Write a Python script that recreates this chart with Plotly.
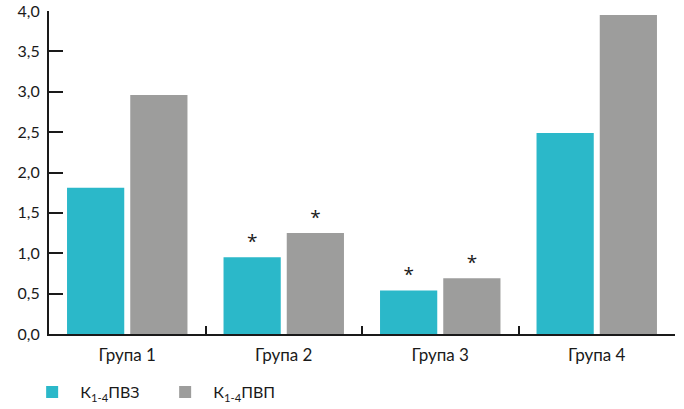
import plotly.graph_objects as go

categories = ["Група 1", "Група 2", "Група 3", "Група 4"]
series_names = ["\u00a0\u00a0К<sub>1-4</sub>ПВЗ", "\u00a0\u00a0К<sub>1-4</sub>ПВП"]
pvz_values = [1.81, 0.95, 0.54, 2.49]
pvp_values = [2.96, 1.25, 0.69, 3.95]
pvz_marks = ["", "*", "*", ""]
pvp_marks = ["", "*", "*", ""]
y_ticks = [0, 0.5, 1.0, 1.5, 2.0, 2.5, 3.0, 3.5, 4.0]
y_tick_labels = ["0,0", "0,5", "1,0", "1,5", "2,0", "2,5", "3,0", "3,5", "4,0"]

FONT = "Lato, 'Open Sans', sans-serif"
STAR_FONT = dict(size=19, color="#1a1a1a", family="'Open Sans', sans-serif")
fig = go.Figure()
fig.add_trace(go.Bar(x=categories, y=pvz_values, name=series_names[0],
                     marker=dict(color="#2BB8C9", line=dict(width=0)),
                     text=pvz_marks, textposition="outside", cliponaxis=False,
                     textfont=STAR_FONT, hoverinfo="skip"))
fig.add_trace(go.Bar(x=categories, y=pvp_values, name=series_names[1],
                     marker=dict(color="#9D9D9C", line=dict(width=0)),
                     text=pvp_marks, textposition="outside", cliponaxis=False,
                     textfont=STAR_FONT, hoverinfo="skip"))

fig.update_layout(
    width=684, height=409,
    margin=dict(l=49, r=9, t=11, b=75, pad=0, autoexpand=False),
    paper_bgcolor="white", plot_bgcolor="white",
    barmode="group", bargap=0.192, bargroupgap=0.095,
    font=dict(family=FONT, size=17, color="#1a1a1a"),
    showlegend=True,
    legend=dict(orientation="h", xref="container", yref="container",
                x=0.047, y=-0.023, xanchor="left", yanchor="bottom",
                font=dict(size=16, family=FONT, color="#1a1a1a"),
                entrywidth=88, traceorder="normal", itemclick=False),
    xaxis=dict(showline=True, linecolor="#1a1a1a", linewidth=2,
               ticks="inside", tickson="boundaries", ticklen=8, tickwidth=2,
               tickcolor="#1a1a1a", showgrid=False, zeroline=False,
               ticklabelstandoff=5, layer="below traces",
               tickfont=dict(size=17, family=FONT)),
    yaxis=dict(range=[0, 4], tickvals=y_ticks, ticktext=y_tick_labels,
               showline=True, linecolor="#1a1a1a", linewidth=2,
               ticks="inside", ticklen=14, tickwidth=2, tickcolor="#1a1a1a",
               showgrid=False, zeroline=False, ticklabelstandoff=4,
               tickfont=dict(size=16, family=FONT)),
)

fig.write_html("out.html", config={"displayModeBar": False, "staticPlot": True},
               post_script="document.body.style.margin='0';document.body.style.overflow='hidden';")
